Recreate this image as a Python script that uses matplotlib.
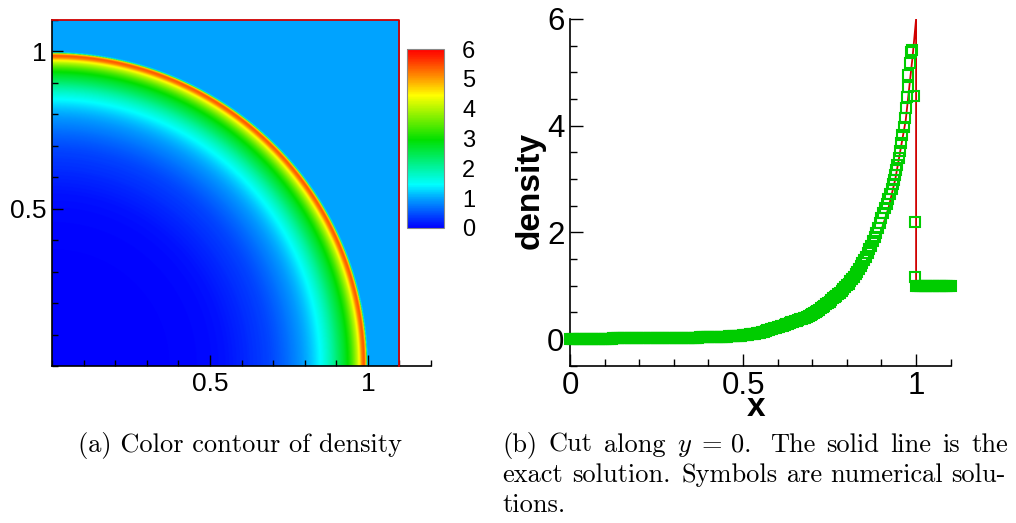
import numpy as np
import matplotlib
matplotlib.use("Agg")
import matplotlib.pyplot as plt
from matplotlib.colors import LinearSegmentedColormap
from matplotlib.ticker import FixedLocator, MultipleLocator, FuncFormatter

plt.rcParams['font.family'] = ['Liberation Sans', 'DejaVu Sans']
plt.rcParams['mathtext.fontset'] = 'cm'

# ---------------- data ----------------
domain_size = 1.1

# numerical solution along the cut y = 0 (symbols)
x_smooth = np.linspace(0.0, 0.925, 186)
rho_smooth = [
    0.00, 0.00, 0.00, 0.00, 0.00, 0.00, 0.00, 0.00, 0.00, 0.00,
    0.00, 0.00, 0.00, 0.00, 0.00, 0.00, 0.00, 0.00, 0.00, 0.00,
    0.00, 0.00, 0.00, 0.00, 0.00, 0.01, 0.01, 0.01, 0.01, 0.01,
    0.01, 0.01, 0.01, 0.01, 0.01, 0.01, 0.01, 0.01, 0.01, 0.01,
    0.01, 0.01, 0.01, 0.01, 0.01, 0.01, 0.01, 0.01, 0.01, 0.01,
    0.01, 0.01, 0.01, 0.01, 0.01, 0.02, 0.02, 0.02, 0.02, 0.02,
    0.02, 0.02, 0.02, 0.02, 0.02, 0.02, 0.02, 0.02, 0.02, 0.02,
    0.02, 0.02, 0.02, 0.02, 0.02, 0.03, 0.03, 0.03, 0.03, 0.03,
    0.03, 0.03, 0.03, 0.03, 0.03, 0.04, 0.04, 0.04, 0.04, 0.04,
    0.04, 0.04, 0.05, 0.05, 0.05, 0.05, 0.06, 0.06, 0.06, 0.06,
    0.07, 0.07, 0.08, 0.08, 0.09, 0.09, 0.10, 0.10, 0.11, 0.11,
    0.12, 0.13, 0.14, 0.15, 0.16, 0.17, 0.18, 0.19, 0.20, 0.21,
    0.22, 0.23, 0.24, 0.25, 0.26, 0.28, 0.29, 0.30, 0.31, 0.32,
    0.33, 0.34, 0.35, 0.37, 0.38, 0.39, 0.40, 0.42, 0.43, 0.45,
    0.47, 0.49, 0.51, 0.53, 0.55, 0.58, 0.60, 0.62, 0.65, 0.67,
    0.70, 0.73, 0.76, 0.78, 0.81, 0.84, 0.87, 0.90, 0.93, 0.97,
    1.01, 1.04, 1.08, 1.12, 1.16, 1.21, 1.26, 1.31, 1.37, 1.42,
    1.48, 1.54, 1.61, 1.68, 1.75, 1.83, 1.91, 1.99, 2.08, 2.17,
    2.27, 2.36, 2.45, 2.54, 2.63, 2.72,
]
x_steep = [0.929, 0.933, 0.937, 0.940, 0.943, 0.946, 0.950, 0.953, 0.957, 0.960,
           0.964, 0.967, 0.970, 0.973, 0.976, 0.978, 0.981, 0.986, 0.988]
rho_steep = [2.81, 2.90, 2.99, 3.07, 3.16, 3.26, 3.39, 3.52, 3.67, 3.82,
             3.98, 4.15, 4.34, 4.53, 4.73, 4.95, 5.18, 5.39, 5.42]
x_shock = [0.994, 0.996, 0.998]
rho_shock = [4.55, 2.19, 1.17]
x_ahead = np.linspace(1.0, 1.1, 21)
rho_ahead = [1.0, 1.0, 1.0, 1.0, 1.0, 1.0, 1.0, 1.0, 1.0, 1.0, 1.0,
             1.0, 1.0, 1.0, 1.0, 1.0, 1.0, 1.0, 1.0, 1.0, 1.0]

x_num = np.concatenate([x_smooth, x_steep, x_shock, x_ahead])
rho_num = np.concatenate([rho_smooth, rho_steep, rho_shock, rho_ahead])

# exact solution (solid line)
x_exact = [0.0, 0.3, 0.5, 0.6, 0.7, 0.75, 0.8, 0.85, 0.89, 0.92, 0.94, 0.955,
           0.97, 0.98, 0.99, 1.0, 1.0, 1.1]
rho_exact = [0.0, 0.005, 0.04, 0.15, 0.40, 0.6, 0.9, 1.35, 1.85, 2.45, 3.0, 3.55,
             4.1, 4.7, 5.3, 6.0, 1.0, 1.0]

# colour map stops (density value -> colour)
cmap_values = [0.0, 1.0, 1.45, 2.95, 4.45, 4.95, 5.7, 6.0]
cmap_colors = ['#0000FF', '#00A5FF', '#00FFFF', '#00E000', '#FFFF00', '#FFA500',
               '#FF2800', '#FF0000']
cb_ticks = [0, 1, 2, 3, 4, 5, 6]

left_xticks = [0.5, 1]
left_yticks = [0.5, 1]
right_xticks = [0, 0.5, 1]
right_yticks = [0, 2, 4, 6]

caption_a = "(a) Color contour of density"
caption_b_lines = [
    ["(b)", "Cut", "along", "$y$", "=", "0.", "The", "solid", "line", "is", "the"],
    ["exact", "solution.", "Symbols", "are", "numerical", "solu-"],
    ["tions."],
]
caption_b_weights = [
    [1, 1, 1, 0.85, 0.85, 1.6, 1, 1, 1, 1],
    [1, 1.3, 1, 1, 1],
    [],
]

# ---------------- figure ----------------
W, H = 1016, 523
fig = plt.figure(figsize=(W / 100, H / 100), dpi=100)

def box(x0, y0, x1, y1):
    return [x0 / W, 1 - y1 / H, (x1 - x0) / W, (y1 - y0) / H]

fmt = FuncFormatter(lambda v, p: '%g' % v)
GREEN = '#00CC00'
RED = '#D00000'

# ----- left panel: colour contour -----
axL = fig.add_axes(box(52, 20, 431, 366))
cmap = LinearSegmentedColormap.from_list(
    'tec', [(v / 6.0, c) for v, c in zip(cmap_values, cmap_colors)])
n = 700
g = np.linspace(0, domain_size, n)
GX, GY = np.meshgrid(g, g)
R = np.hypot(GX, GY)
field = np.interp(R, x_num, rho_num)
im = axL.imshow(field, extent=[0, domain_size, 0, domain_size], origin='lower',
                cmap=cmap, vmin=0, vmax=6, aspect='auto', interpolation='bilinear')
axL.plot([0, domain_size, domain_size], [domain_size, domain_size, 0],
         color=RED, lw=1.3, clip_on=False, zorder=3)
axL.set_xlim(0, 1.2)
axL.set_ylim(0, domain_size)
for s in ['top', 'right']:
    axL.spines[s].set_visible(False)
for s in ['left', 'bottom']:
    axL.spines[s].set_linewidth(1.2)
axL.xaxis.set_major_locator(FixedLocator(left_xticks))
axL.yaxis.set_major_locator(FixedLocator(left_yticks))
axL.xaxis.set_minor_locator(MultipleLocator(0.1))
axL.yaxis.set_minor_locator(MultipleLocator(0.1))
axL.xaxis.set_major_formatter(fmt)
axL.yaxis.set_major_formatter(fmt)
axL.tick_params(which='both', direction='in', width=1.0, labelsize=19, top=False, right=False)
axL.tick_params(which='major', length=8, pad=4)
axL.tick_params(which='minor', length=4)

# colorbar
cax = fig.add_axes(box(407, 49, 444, 228))
cb = fig.colorbar(im, cax=cax, ticks=cb_ticks)
cb.ax.yaxis.set_major_formatter(fmt)
cb.ax.tick_params(length=0, pad=13, labelsize=17)
cb.outline.set_edgecolor('#888888')
cb.outline.set_linewidth(0.8)

# ----- right panel: cut along y = 0 -----
axR = fig.add_axes(box(570, 19, 950.7, 365.7))
axR.plot(x_exact, rho_exact, color=RED, lw=1.3, zorder=2)
axR.plot(x_num, rho_num, ls='none', marker='s', ms=7.3, mfc='none',
         mec=GREEN, mew=1.5, zorder=3, clip_on=False)
axR.set_xlim(0, 1.1)
axR.set_ylim(-0.5, 6)
for s in ['top', 'right']:
    axR.spines[s].set_visible(False)
for s in ['left', 'bottom']:
    axR.spines[s].set_linewidth(1.2)
axR.xaxis.set_major_locator(FixedLocator(right_xticks))
axR.yaxis.set_major_locator(FixedLocator(right_yticks))
axR.xaxis.set_minor_locator(MultipleLocator(0.1))
axR.yaxis.set_minor_locator(MultipleLocator(0.5))
axR.xaxis.set_major_formatter(fmt)
axR.yaxis.set_major_formatter(fmt)
axR.tick_params(which='both', direction='in', width=1.0, labelsize=22.5, top=False, right=False)
axR.tick_params(which='major', length=9, pad=4)
axR.tick_params(which='minor', length=5)
axR.set_ylabel('density', fontsize=24, fontweight='bold')
axR.yaxis.label.set_va('center')
axR.yaxis.set_label_coords((530 - 570) / 380.7, (365.7 - 190.5) / 346.7)
axR.set_xlabel('x', fontsize=24, fontweight='bold')
axR.xaxis.label.set_va('baseline')
axR.xaxis.set_label_coords((756.5 - 570) / 380.7, (365.7 - 416) / 346.7)

# ----- captions -----
CAP_FS = 19
renderer = fig.canvas.get_renderer()

def put_line(words, x0, x1, ybase, weights, justify=True):
    txts = [fig.text(0, 1 - ybase / H, w, fontsize=CAP_FS, family='cmr10',
                     va='baseline', ha='left') for w in words]
    widths = [t.get_window_extent(renderer).width for t in txts]
    if justify and len(words) > 1:
        unit = ((x1 - x0) - sum(widths)) / sum(weights)
    else:
        unit = 0
    x = x0
    for i, (t, w) in enumerate(zip(txts, widths)):
        t.set_x(x / W)
        if i < len(weights):
            x += w + unit * weights[i]

fig.text(78 / W, 1 - 451.7 / H, caption_a, fontsize=CAP_FS, family='cmr10',
         va='baseline', ha='left')
put_line(caption_b_lines[0], 502.7, 1008, 451.7, caption_b_weights[0])
put_line(caption_b_lines[1], 502.7, 1006, 482.3, caption_b_weights[1])
put_line(caption_b_lines[2], 502.7, 1006, 511.7, caption_b_weights[2], justify=False)

fig.savefig('out.png', dpi=100)
